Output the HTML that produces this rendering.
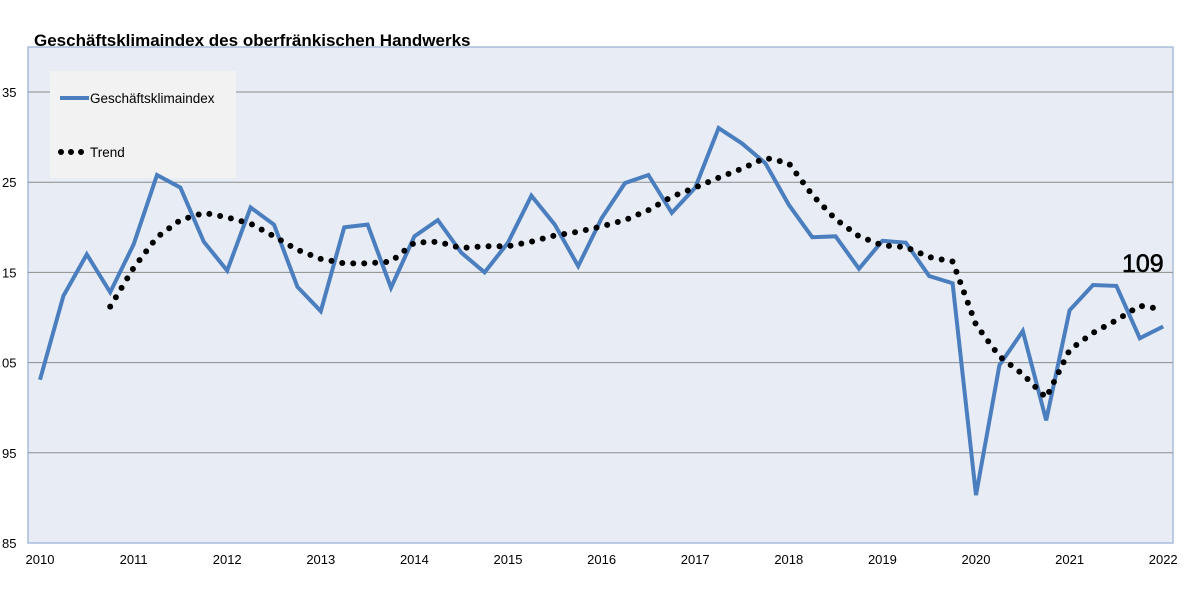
<!DOCTYPE html>
<html><head><meta charset="utf-8"><style>
body{margin:0;background:#fff;width:1200px;height:600px;overflow:hidden}
svg text{font-family:"Liberation Sans",sans-serif}
</style></head><body>
<svg width="1200" height="600">
<text x="34" y="46" font-size="17" font-weight="bold">Geschäftsklimaindex des oberfränkischen Handwerks</text>
<rect x="28" y="47" width="1145" height="496" fill="#e8ecf4" stroke="#a9bcdc" stroke-width="1.5"/>
<g id="grid"></g><g id="ylabels"></g><g id="xlabels"></g>
<rect x="50" y="71" width="186" height="107" fill="#f2f2f2"/>
<line x1="60" y1="98" x2="89" y2="98" stroke="#4a7ebe" stroke-width="4"/>
<text x="90" y="103" font-size="13.5">Geschäftsklimaindex</text>
<line x1="61" y1="152" x2="83" y2="152" stroke="#000" stroke-width="6" stroke-linecap="round" stroke-dasharray="0 10"/>
<text x="90" y="157" font-size="13.5">Trend</text>
<g id="series"></g>
<text x="1122" y="272" font-size="25" stroke="#000" stroke-width="0.6">109</text>
</svg>
<script>
const yTicks=[135,125,115,105,95,85];
const yTickLabels=["35","25","15","05","95","85"];
const xYears=[2010,2011,2012,2013,2014,2015,2016,2017,2018,2019,2020,2021,2022];
const indexValues=[103.1,112.4,117.0,112.8,118.1,125.8,124.4,118.4,115.2,122.2,120.3,113.4,110.7,120.0,120.3,113.3,119.0,120.8,117.2,115.0,118.3,123.5,120.3,115.7,121.0,124.9,125.8,121.6,124.4,131.0,129.3,127.1,122.5,118.9,119.0,115.4,118.5,118.3,114.6,113.8,90.3,104.7,108.5,98.6,110.8,113.6,113.5,107.7,109.0];
const trendStart=3;
const trendValues=[111.2,115.5,118.9,120.8,121.6,121.1,120.4,119.0,117.5,116.5,116.0,116.0,116.2,118.3,118.4,117.7,117.9,117.9,118.4,119.1,119.5,120.1,120.8,121.9,123.4,124.4,125.5,126.5,127.7,127.1,123.6,120.9,119.0,118.0,117.8,116.7,116.2,109.2,105.7,103.7,101.1,106.4,108.3,109.7,111.3,110.9];
const NS="http://www.w3.org/2000/svg";
const yS=v=>543-(v-85)*9.02;
const xS=t=>40+(t-2010)*93.6;
const xQ=i=>xS(2010+i/4);
const grid=document.getElementById('grid'),yl=document.getElementById('ylabels'),xl=document.getElementById('xlabels'),ser=document.getElementById('series');
yTicks.forEach((v,i)=>{
 if(v>85){const l=document.createElementNS(NS,'line');
 l.setAttribute('x1',28);l.setAttribute('x2',1173);l.setAttribute('y1',yS(v));l.setAttribute('y2',yS(v));
 l.setAttribute('stroke','#8c8c8c');l.setAttribute('stroke-width','1');
 
 
 grid.appendChild(l);}
 const t=document.createElementNS(NS,'text');
 t.setAttribute('x',2);t.setAttribute('y',yS(v)+5);t.setAttribute('font-size','13');
 t.textContent=yTickLabels[i];
 
 
 yl.appendChild(t);
});
xYears.forEach(y=>{
 const t=document.createElementNS(NS,'text');
 t.setAttribute('x',xS(y));t.setAttribute('y',564);t.setAttribute('font-size','13');t.setAttribute('text-anchor','middle');
 t.textContent=y;
 
 
 xl.appendChild(t);
});
const p1=document.createElementNS(NS,'polyline');
p1.setAttribute('points',indexValues.map((v,i)=>xQ(i)+','+yS(v)).join(' '));
p1.setAttribute('fill','none');p1.setAttribute('stroke','#4a7ebe');p1.setAttribute('stroke-width','4');p1.setAttribute('stroke-linejoin','miter');


ser.appendChild(p1);
const p2=document.createElementNS(NS,'polyline');
p2.setAttribute('points',trendValues.map((v,i)=>xQ(i+trendStart)+','+yS(v)).join(' '));
p2.setAttribute('fill','none');p2.setAttribute('stroke','#000');p2.setAttribute('stroke-width','6');p2.setAttribute('stroke-linecap','round');p2.setAttribute('stroke-dasharray','0 11');


ser.appendChild(p2);
</script>
</body></html>
